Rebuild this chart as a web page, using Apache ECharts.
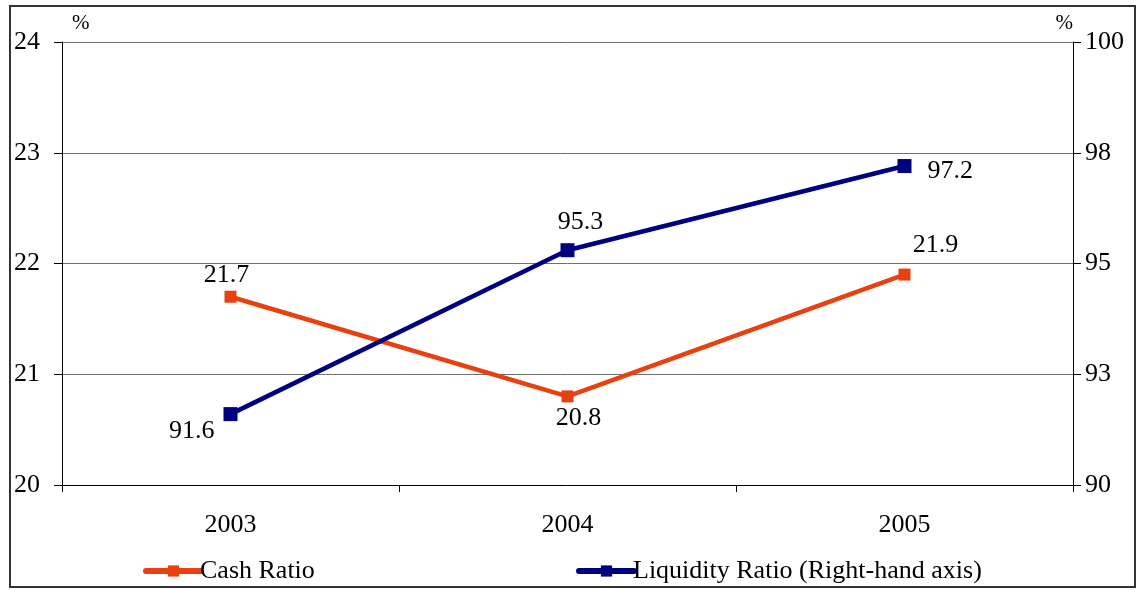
<!DOCTYPE html>
<html><head><meta charset="utf-8">
<script src="https://cdn.jsdelivr.net/npm/echarts@6/dist/echarts.min.js"></script>
<style>html,body{margin:0;padding:0;background:#fff}#c{width:1137px;height:590px}</style>
</head><body><div id="c"></div>
<script>
const categories = ['2003', '2004', '2005'];
const cashRatio = [21.7, 20.8, 21.9];
const liquidityRatio = [91.6, 95.3, 97.2];
const seriesNames = ['Cash Ratio', 'Liquidity Ratio (Right-hand axis)'];
const FONT = '"Liberation Serif", "DejaVu Serif", serif';
const FS = 26;

const chart = echarts.init(document.getElementById('c'), null, {renderer: 'canvas'});
const txt = {fontFamily: FONT, fontSize: FS, color: '#000'};
const lab = (pos, off) => ({position: pos, offset: off || [0, 0]});
chart.setOption({
  animation: false,
  backgroundColor: '#fff',
  graphic: [{
    type: 'rect', shape: {x: 10, y: 6, width: 1125, height: 581},
    style: {fill: 'none', stroke: '#333', lineWidth: 2}, silent: true
  }],
  grid: {left: 62, right: 64, top: 42, bottom: 105, containLabel: false},
  legend: [{
    data: [seriesNames[0]], left: 138, top: 553, itemWidth: 55, itemHeight: 14, itemGap: 4,
    lineStyle: {width: 6, cap: 'round'},
    textStyle: Object.assign({}, txt, {padding: [0, 0, 0, -6]})
  }, {
    data: [seriesNames[1]], left: 571, top: 553, itemWidth: 55, itemHeight: 14,
    lineStyle: {width: 6, cap: 'round'},
    textStyle: Object.assign({}, txt, {padding: [0, 0, 0, -6]})
  }],
  xAxis: {
    type: 'category', data: categories, boundaryGap: true,
    axisLine: {lineStyle: {color: '#000', width: 1}},
    axisTick: {show: true, length: 7, inside: false, lineStyle: {color: '#000'}},
    axisLabel: Object.assign({}, txt, {margin: 27})
  },
  yAxis: [{
    type: 'value', min: 20, max: 24, interval: 1, position: 'left',
    name: '%', nameLocation: 'end', nameGap: 8,
    nameTextStyle: Object.assign({}, txt, {align: 'left', padding: [0, 0, 0, 10], fontSize: 21}),
    axisLine: {show: true, lineStyle: {color: '#000'}},
    axisTick: {show: true, length: 8, lineStyle: {color: '#000'}},
    axisLabel: Object.assign({}, txt, {margin: 22}),
    splitLine: {show: true, lineStyle: {color: '#707070', width: 1}}
  }, {
    type: 'value', min: 90, max: 100, interval: 2.5, position: 'right',
    name: '%', nameLocation: 'end', nameGap: 8,
    nameTextStyle: Object.assign({}, txt, {align: 'right', padding: [0, 0, 0, 0], fontSize: 21}),
    axisLine: {show: true, lineStyle: {color: '#000'}},
    axisTick: {show: true, length: 8, lineStyle: {color: '#000'}},
    axisLabel: Object.assign({}, txt, {margin: 12, formatter: v => String(Math.round(v))}),
    splitLine: {show: false}
  }],
  series: [{
    name: seriesNames[0], type: 'line', yAxisIndex: 0,
    symbol: 'rect', symbolSize: 12,
    lineStyle: {color: '#E8410F', width: 4.5},
    itemStyle: {color: '#E8410F'},
    label: {show: true, fontFamily: FONT, fontSize: FS, color: '#000', distance: 10,
      formatter: p => p.value.toFixed(1)},
    data: cashRatio.map((v, i) => ({value: v,
      label: i === 0 ? lab('top', [-4, 7]) : (i === 1 ? lab('bottom', [11, -7]) : lab('top', [31, 0]))}))
  }, {
    name: seriesNames[1], type: 'line', yAxisIndex: 1,
    symbol: 'rect', symbolSize: 14,
    lineStyle: {color: '#000080', width: 4.5},
    itemStyle: {color: '#000080'},
    label: {show: true, fontFamily: FONT, fontSize: FS, color: '#000', distance: 14,
      formatter: p => p.value.toFixed(1)},
    data: liquidityRatio.map((v, i) => ({value: v,
      label: i === 0 ? lab('left', [5, 17]) : (i === 1 ? lab('top', [13, 6]) : lab('right', [2, 5]))}))
  }]
});
</script></body></html>
